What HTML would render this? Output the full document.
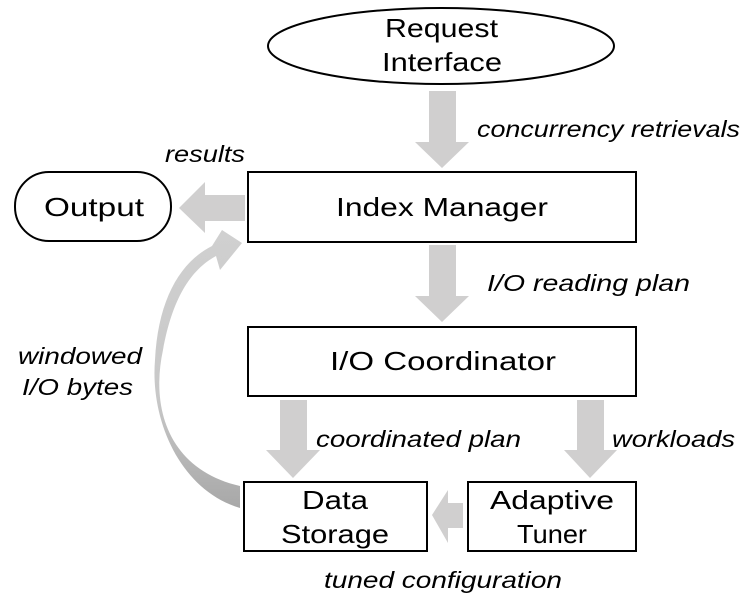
<!DOCTYPE html>
<html><head><style>
body{margin:0;background:#fff;}
svg{display:block;}
text{font-family:"Liberation Sans",sans-serif;fill:#000;}
.l{font-style:italic;font-size:23px;}
.n{font-size:26px;}
</style></head><body>
<svg width="752" height="613" viewBox="0 0 752 613">
<defs>
<linearGradient id="g" x1="0" y1="0" x2="0" y2="1">
<stop offset="0" stop-color="#d0d0d0"/><stop offset="0.6" stop-color="#c8c8c8"/><stop offset="1" stop-color="#a8a8a8"/>
</linearGradient>
</defs>
<ellipse cx="441" cy="46" rx="173" ry="38" fill="#fff" stroke="#000" stroke-width="2"/>
<text class="n" x="385" y="37" textLength="113" lengthAdjust="spacingAndGlyphs">Request</text>
<text class="n" x="382" y="71" textLength="120" lengthAdjust="spacingAndGlyphs">Interface</text>
<g fill="#d0cfcf">
<polygon points="429,91 456,91 456,142 469,142 442,168 415,142 429,142"/>
<polygon points="429,245 456,245 456,296 469,296 442,322 415,296 429,296"/>
<polygon points="280,400 307,400 307,450 320,450 293,478 266,450 280,450"/>
<polygon points="577,400 604,400 604,450 617,450 590,478 564,450 577,450"/>
<polygon points="245,195 245,221 205,221 205,233 179,208 205,182 205,195"/>
<polygon points="463,503 463,528 448,528 448,543 432,515 448,490 448,503"/>
</g>
<path d="M240,486 C170,470 150,410 163,350 C172,300 190,270 216,256 L220,270 L242,243 L222,230 L212,246 C180,262 158,300 155,360 C150,420 180,490 240,508 Z" fill="url(#g)"/>
<rect x="248" y="172" width="388" height="70" fill="#fff" stroke="#000" stroke-width="2"/>
<text class="n" x="336" y="216" textLength="212" lengthAdjust="spacingAndGlyphs">Index Manager</text>
<rect x="15" y="172" width="156" height="69" rx="34" fill="#fff" stroke="#000" stroke-width="2"/>
<text class="n" x="44" y="216" textLength="100" lengthAdjust="spacingAndGlyphs">Output</text>
<rect x="248" y="327" width="388" height="69" fill="#fff" stroke="#000" stroke-width="2"/>
<text class="n" x="330" y="370" textLength="226" lengthAdjust="spacingAndGlyphs">I/O Coordinator</text>
<rect x="244" y="482" width="183" height="69" fill="#fff" stroke="#000" stroke-width="2"/>
<text class="n" x="302" y="509" textLength="66" lengthAdjust="spacingAndGlyphs">Data</text>
<text class="n" x="281" y="543" textLength="108" lengthAdjust="spacingAndGlyphs">Storage</text>
<rect x="468" y="482" width="168" height="69" fill="#fff" stroke="#000" stroke-width="2"/>
<text class="n" x="490" y="509" textLength="124" lengthAdjust="spacingAndGlyphs">Adaptive</text>
<text class="n" x="517" y="543" textLength="70" lengthAdjust="spacingAndGlyphs">Tuner</text>
<text class="l" x="477" y="137" textLength="263" lengthAdjust="spacingAndGlyphs">concurrency retrievals</text>
<text class="l" x="165" y="162" textLength="80" lengthAdjust="spacingAndGlyphs">results</text>
<text class="l" x="487" y="291" textLength="203" lengthAdjust="spacingAndGlyphs">I/O  reading plan</text>
<text class="l" x="18" y="364" textLength="124" lengthAdjust="spacingAndGlyphs">windowed</text>
<text class="l" x="22" y="395" textLength="111" lengthAdjust="spacingAndGlyphs">I/O bytes</text>
<text class="l" x="316" y="447" textLength="205" lengthAdjust="spacingAndGlyphs">coordinated plan</text>
<text class="l" x="612" y="447" textLength="123" lengthAdjust="spacingAndGlyphs">workloads</text>
<text class="l" x="324" y="588" textLength="238" lengthAdjust="spacingAndGlyphs">tuned configuration</text>
</svg>
</body></html>
